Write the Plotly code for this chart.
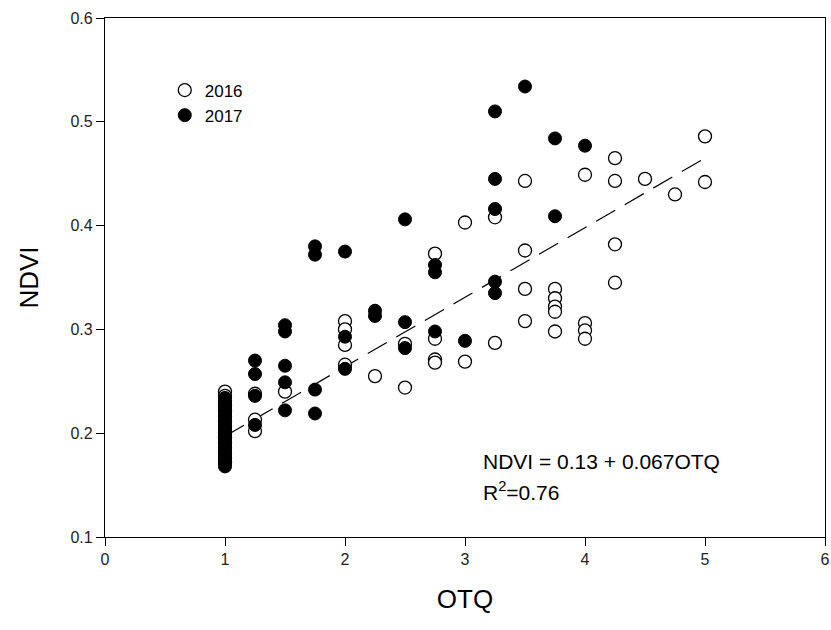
import plotly.graph_objects as go

# ---- data ----
otq_2016 = [1]*15 + [1.25, 1.25, 1.25, 1.5, 2, 2, 2, 2, 2.25, 2.5, 2.5,
            2.75, 2.75, 2.75, 2.75, 3, 3, 3.25, 3.25,
            3.5, 3.5, 3.5, 3.5, 3.75, 3.75, 3.75, 3.75, 3.75,
            4, 4, 4, 4, 4.25, 4.25, 4.25, 4.25, 4.5, 4.75, 5, 5]
ndvi_2016 = [0.240, 0.236, 0.231, 0.226, 0.221, 0.216, 0.211, 0.206, 0.201, 0.196,
             0.191, 0.186, 0.181, 0.176, 0.172,
             0.238, 0.213, 0.202, 0.240, 0.308, 0.300, 0.285, 0.266, 0.255, 0.286, 0.244,
             0.373, 0.291, 0.271, 0.268, 0.403, 0.269, 0.408, 0.287,
             0.443, 0.376, 0.339, 0.308, 0.339, 0.330, 0.322, 0.317, 0.298,
             0.449, 0.306, 0.299, 0.291, 0.465, 0.443, 0.382, 0.345, 0.445, 0.430, 0.486, 0.442]

otq_2017 = [1]*17 + [1.25, 1.25, 1.25, 1.25, 1.5, 1.5, 1.5, 1.5, 1.5,
            1.75, 1.75, 1.75, 1.75, 2, 2, 2, 2.25, 2.25, 2.5, 2.5, 2.5,
            2.75, 2.75, 2.75, 3, 3.25, 3.25, 3.25, 3.25, 3.25, 3.5, 3.75, 3.75, 4]
ndvi_2017 = [0.234, 0.229, 0.224, 0.219, 0.214, 0.209, 0.204, 0.199, 0.196, 0.192,
             0.188, 0.184, 0.181, 0.177, 0.174, 0.171, 0.168,
             0.270, 0.257, 0.236, 0.208, 0.304, 0.298, 0.265, 0.249, 0.222,
             0.380, 0.372, 0.242, 0.219, 0.375, 0.293, 0.262, 0.318, 0.313,
             0.406, 0.307, 0.282, 0.362, 0.355, 0.298, 0.289,
             0.510, 0.445, 0.416, 0.346, 0.335, 0.534, 0.484, 0.409, 0.477]

fit_intercept = 0.13
fit_slope = 0.067
fit_x = [1, 5]
fit_y = [fit_intercept + fit_slope * v for v in fit_x]

FONT = "Arial, 'Liberation Sans', sans-serif"

fig = go.Figure()
fig.add_trace(go.Scatter(
    x=fit_x, y=fit_y, mode="lines", showlegend=False,
    line=dict(color="black", width=1.2, dash="22px,11px")))
fig.add_trace(go.Scatter(
    x=otq_2016, y=ndvi_2016, mode="markers", name="2016",
    marker=dict(size=13, color="white", line=dict(color="black", width=1.3))))
fig.add_trace(go.Scatter(
    x=otq_2017, y=ndvi_2017, mode="markers", name="2017",
    marker=dict(size=13, color="black", line=dict(color="black", width=1))))

fig.add_annotation(x=0.522, y=0.145, xref="paper", yref="paper", xanchor="left", yanchor="middle",
                   text="NDVI = 0.13 + 0.067OTQ", showarrow=False,
                   font=dict(size=21, color="black", family=FONT))
fig.add_annotation(x=0.522, y=0.088, xref="paper", yref="paper", xanchor="left", yanchor="middle",
                   text="R<sup>2</sup>=0.76", showarrow=False,
                   font=dict(size=21, color="black", family=FONT))

fig.update_layout(
    width=831, height=630,
    margin=dict(l=105, r=6, t=18, b=93, autoexpand=False),
    paper_bgcolor="white", plot_bgcolor="white",
    font=dict(family=FONT, color="black"),
    legend=dict(x=0.083, y=0.895, xanchor="left", yanchor="top",
                bgcolor="rgba(0,0,0,0)", font=dict(size=17, family=FONT),
                itemwidth=30, tracegroupgap=0),
    xaxis=dict(range=[0, 6], tickvals=[0, 1, 2, 3, 4, 5, 6], showgrid=False, zeroline=False,
               showline=True, linecolor="black", linewidth=1.2, mirror=True,
               ticks="outside", ticklen=8, tickcolor="black",
               tickfont=dict(size=16, color="#222"),
               title=dict(text="OTQ", font=dict(size=26), standoff=22)),
    yaxis=dict(range=[0.1, 0.6], tickvals=[0.1, 0.2, 0.3, 0.4, 0.5, 0.6], showgrid=False, zeroline=False,
               showline=True, linecolor="black", linewidth=1.2, mirror=True,
               ticks="outside", ticklen=8, tickcolor="black", tickformat=".1f",
               tickfont=dict(size=16, color="#222"),
               title=dict(text="NDVI", font=dict(size=26), standoff=24)),
)

fig.write_html("out.html")
